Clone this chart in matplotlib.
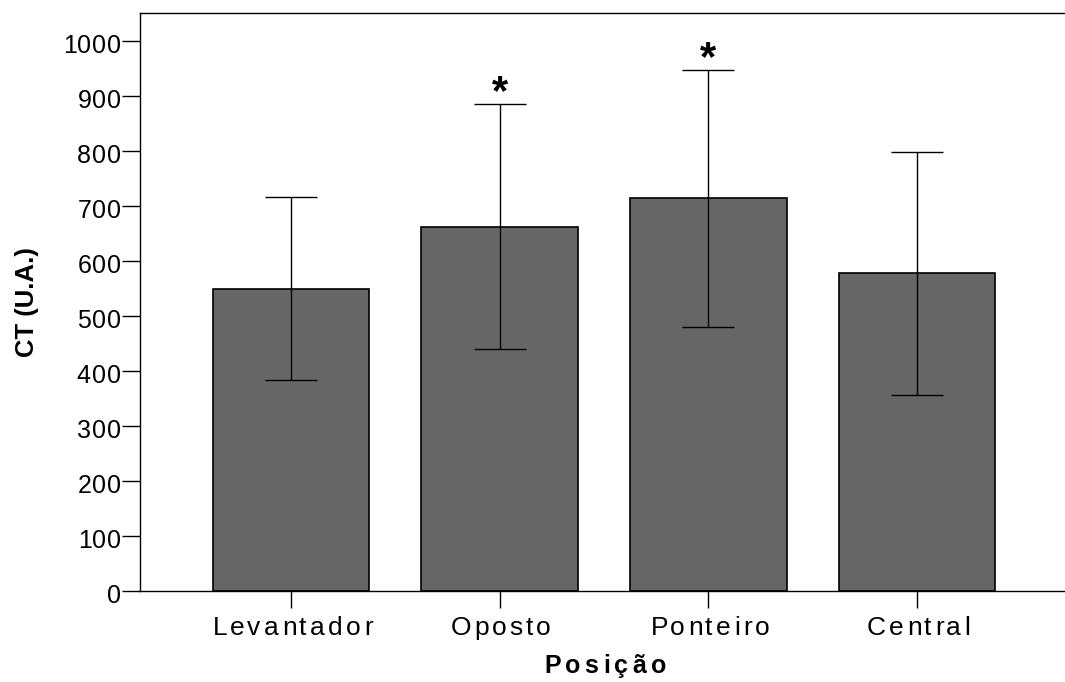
import numpy as np
import matplotlib
matplotlib.use("Agg")
import matplotlib.pyplot as plt
from matplotlib.font_manager import FontProperties, findfont, get_font
from matplotlib.ft2font import LoadFlags

# Carga de treino (CT, unidades arbitrárias) por posição em quadra
positions = ["Levantador", "Oposto", "Ponteiro", "Central"]
ct_mean = [550, 663, 714, 578]
ct_sd = [166, 222, 234, 221]
significant = [False, True, True, False]
y_ticks = list(range(0, 1001, 100))

DPI = 100
FAMILY = "Liberation Sans"

plt.rcParams["font.family"] = [FAMILY, "DejaVu Sans"]


def glyph_metrics(text, prop):
    """Advance width and left bearing (pixels) of every character."""
    font = get_font(findfont(prop))
    adv, lsb = [], []
    for ch in text:
        font.set_size(prop.get_size_in_points(), DPI)
        g = font.load_char(ord(ch), flags=LoadFlags.NO_HINTING)
        adv.append(g.linearHoriAdvance / 65536)
        lsb.append(g.horiBearingX / 64)
    return adv, lsb


def tracked_text(ax, xy, xycoords, text, prop, tracking, align="center",
                 dx=0.0, dy=0.0):
    """Draw text with extra letter spacing (pixels) between characters."""
    adv, lsb = glyph_metrics(text, prop)
    total = sum(adv) + tracking * (len(text) - 1)
    if align == "center":
        start = -total / 2
    elif align == "right":
        start = -total
    else:
        start = 0.0
    pen = start + dx
    for ch, a, b in zip(text, adv, lsb):
        ax.annotate(ch, xy=xy, xycoords=xycoords,
                    xytext=(pen + b, dy), textcoords="offset pixels",
                    ha="left", va="baseline", fontproperties=prop,
                    color="black", annotation_clip=False)
        pen += a + tracking


fig = plt.figure(figsize=(10.65, 6.82), dpi=DPI)
ax = fig.add_axes([140 / 1065, (682 - 591.3) / 682,
                   928 / 1065, (591.3 - 12.5) / 682])

x = np.arange(len(positions))
ax.bar(x, ct_mean, width=0.752, color="#666666", edgecolor="black",
       linewidth=1.2, zorder=2)
ax.errorbar(x, ct_mean, yerr=ct_sd, fmt="none", ecolor="black",
            elinewidth=1.0, capsize=18.7, capthick=1.0, zorder=3)

ax.set_xlim(-0.7236, 3.7236)
ax.set_ylim(0, 1052)
ax.set_xticks(x)
ax.set_yticks(y_ticks)
ax.tick_params(labelbottom=False, labelleft=False, direction="out",
               width=1.0, color="black")
ax.tick_params(axis="y", length=13)
ax.tick_params(axis="x", length=12)
for side in ("left", "top", "bottom"):
    ax.spines[side].set_linewidth(1.0)
ax.spines["right"].set_visible(False)

# Rótulos das categorias, com espaçamento entre letras
tick_prop = FontProperties(family=FAMILY, size=19)
for i, name in enumerate(positions):
    tracked_text(ax, (i, 0), ("data", "axes fraction"), name, tick_prop,
                 tracking=3.1, align="center", dy=-43.5)

# Valores do eixo y, alinhados à direita junto das marcas
ytick_prop = FontProperties(family=FAMILY, size=18)
for v in y_ticks:
    tracked_text(ax, (0, v), ("axes fraction", "data"), str(v), ytick_prop,
                 tracking=1.0, align="right", dx=-20, dy=-12)

xlabel_prop = FontProperties(family=FAMILY, size=18, weight="bold")
tracked_text(ax, (0.5, 0), "axes fraction", "Posição", xlabel_prop,
             tracking=4.5, align="center", dy=-82)

fig.text(27 / 1065, 1 - 302 / 682, "CT (U.A.)", rotation=90, ha="center",
         va="center", fontsize=18.5, fontweight="bold")

# Diferença significativa
for i, (m, s, sig) in enumerate(zip(ct_mean, ct_sd, significant)):
    if sig:
        ax.annotate("*", xy=(i, m + s), xytext=(0, 0),
                    textcoords="offset pixels", ha="center", va="baseline",
                    fontsize=30, fontweight="bold", annotation_clip=False)

fig.savefig("out.png", dpi=DPI)
